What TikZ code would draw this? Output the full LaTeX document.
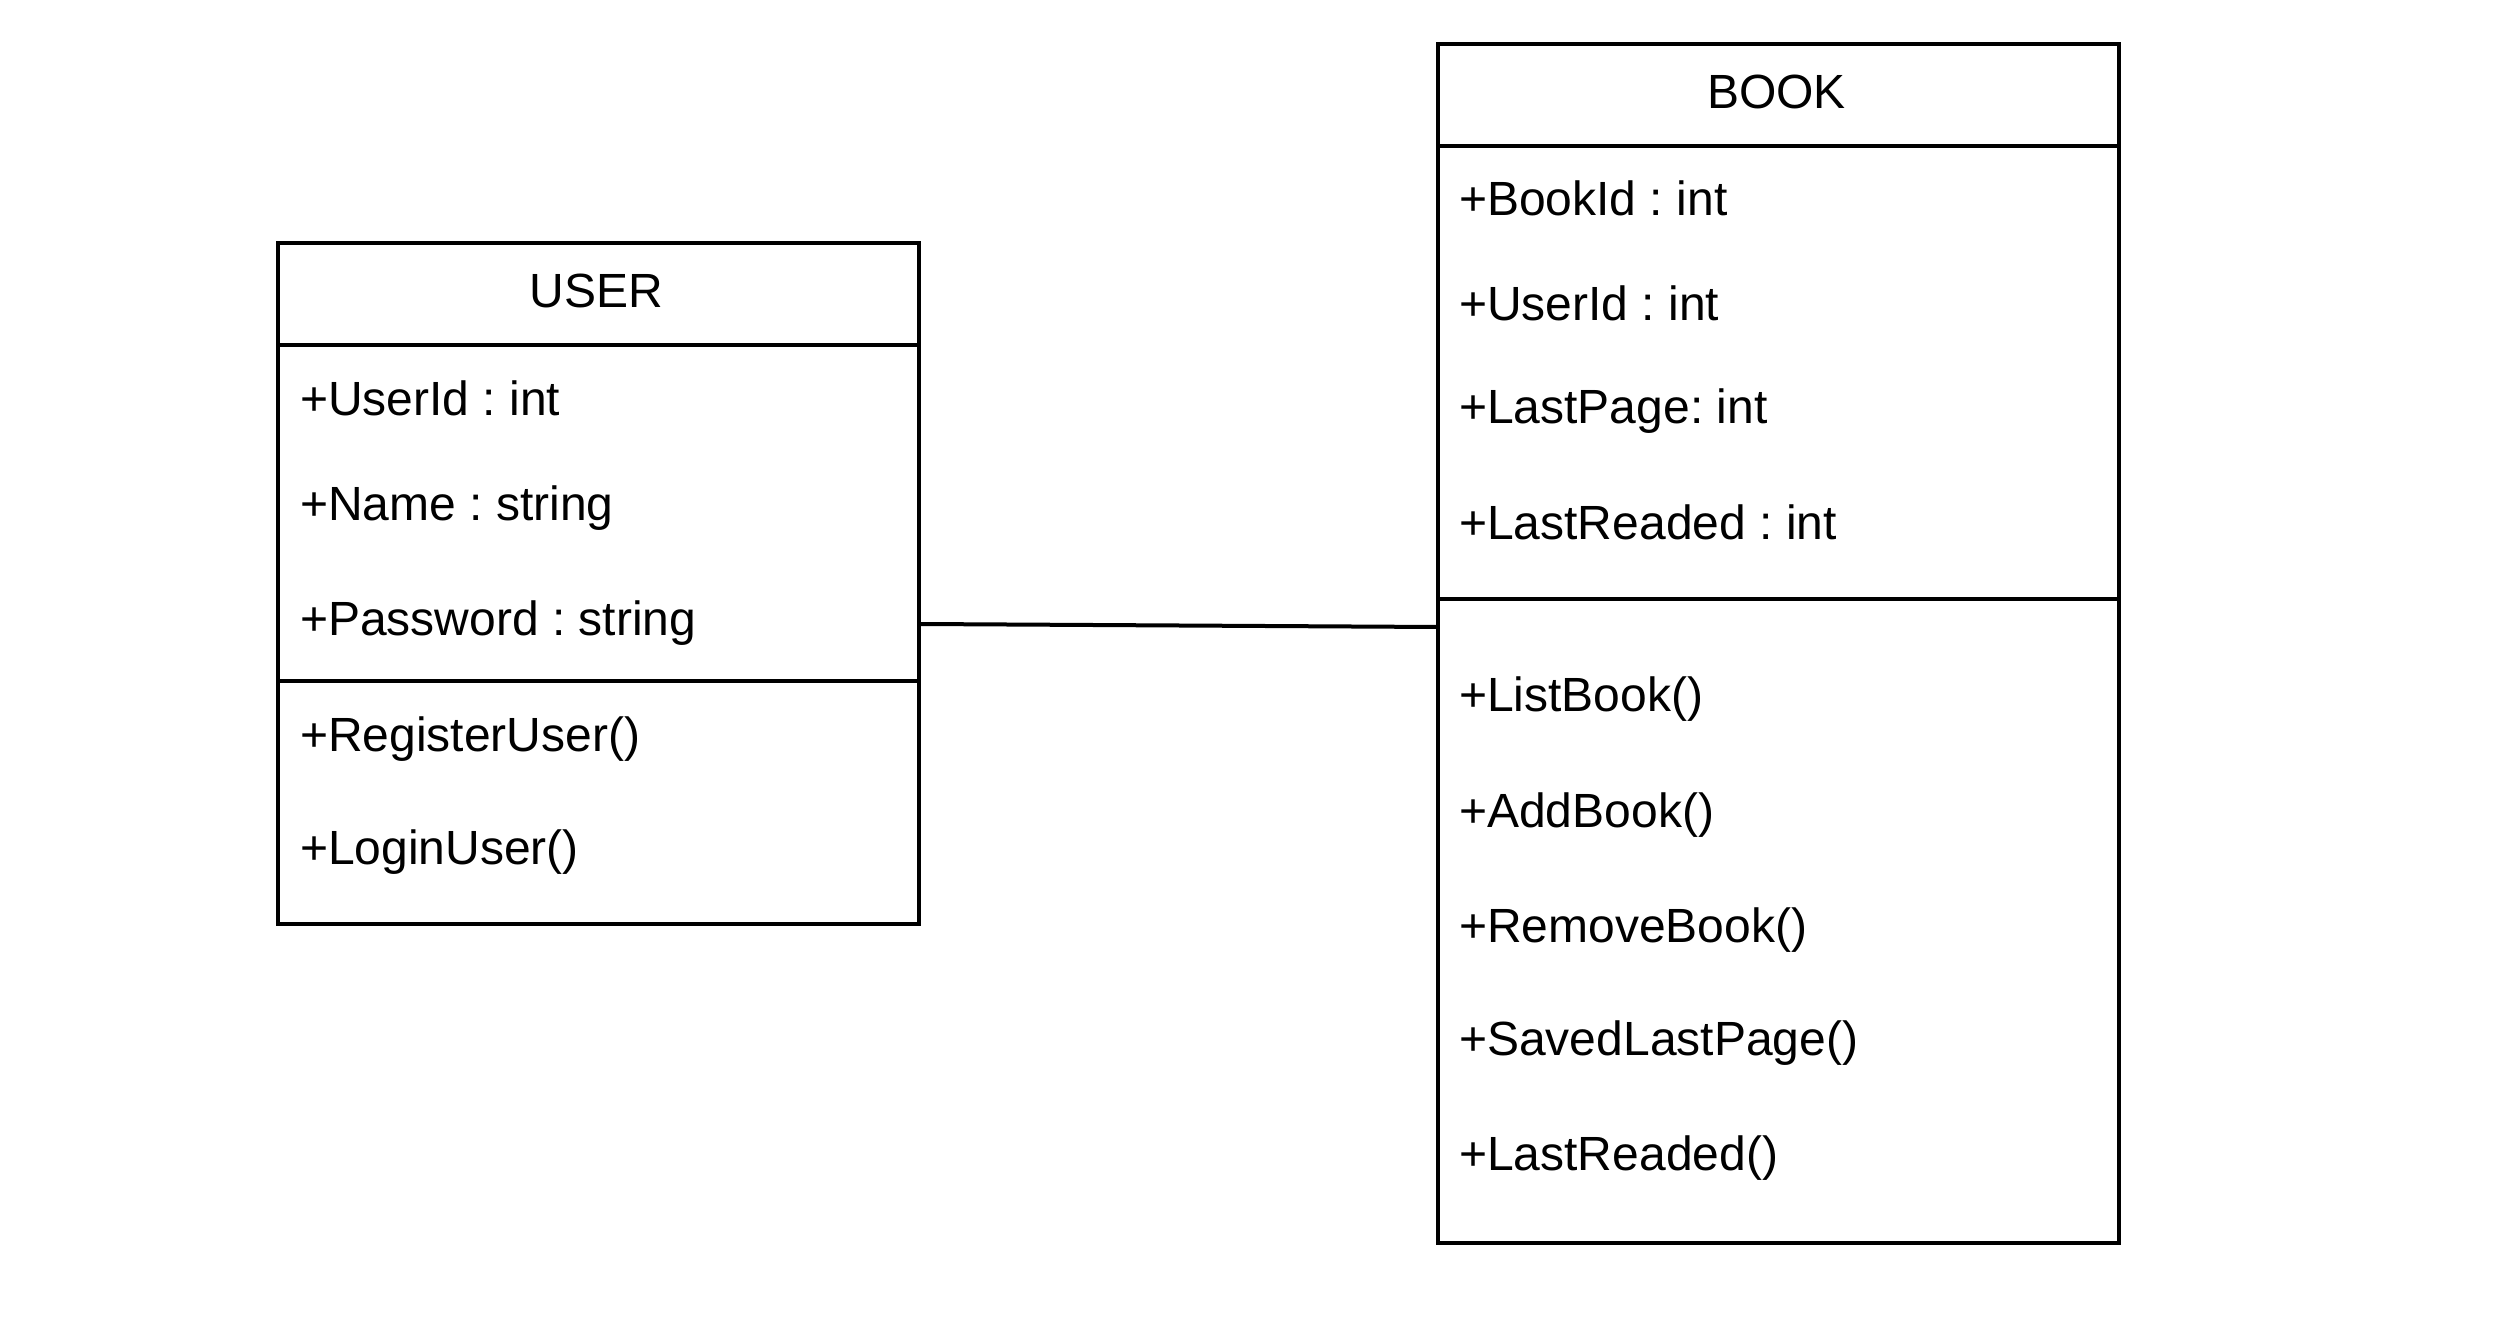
\documentclass[tikz,border=0pt]{standalone}
\usepackage{fontspec}
\setmainfont{Liberation Sans}
\frenchspacing
\begin{document}
\begin{tikzpicture}[x=1pt,y=-1pt,
  box/.style={draw=black,line width=4pt,minimum width=#1,inner sep=0pt},
  sep/.style={line width=4pt},
  title/.style={font=\fontsize{48}{48}\selectfont,anchor=base},
  item/.style={font=\fontsize{48}{48}\selectfont,anchor=base west,inner sep=0pt},
  conn/.style={line width=4pt}]
\useasboundingbox[fill=white] (0,0) rectangle (2519,1321);
% USER
\node[box=641pt,minimum height=681pt,anchor=north west] (user) at (276,241) {};
\draw[sep] (276,345) -- (917,345);
\draw[sep] (276,681) -- (917,681);
\node[title] (ut) at (596.5,308) {USER};
\node[item] (u1) at (300,415) {+UserId : int};
\node[item] (u2) at (300,520) {+Name : string};
\node[item] (u3) at (300,635) {+Password : string};
\node[item] (u4) at (300,751) {+RegisterUser()};
\node[item] (u5) at (300,864) {+LoginUser()};
% BOOK
\node[box=681pt,minimum height=1199pt,anchor=north west] (book) at (1436,42) {};
\draw[sep] (1436,146) -- (2117,146);
\draw[sep] (1436,599) -- (2117,599);
\node[title] (bt) at (1776.5,109) {BOOK};
\node[item] (b1) at (1459,216) {+BookId : int};
\node[item] (b2) at (1459,321) {+UserId : int};
\node[item] (b3) at (1459,423) {+LastPage: int};
\node[item] (b4) at (1459,539) {+LastReaded : int};
\node[item] (b5) at (1459,711) {+ListBook()};
\node[item] (b6) at (1459,827) {+AddBook()};
\node[item] (b7) at (1459,942) {+RemoveBook()};
\node[item] (b8) at (1459,1055) {+SavedLastPage()};
\node[item] (b9) at (1459,1170) {+LastReaded()};
% connector
\coordinate (ca) at ([yshift=-40.5pt]user.east);
\coordinate (cb) at ([yshift=16.5pt,xshift=2pt]book.west);
\draw[conn] (ca) -- (cb);
\end{tikzpicture}
\end{document}
